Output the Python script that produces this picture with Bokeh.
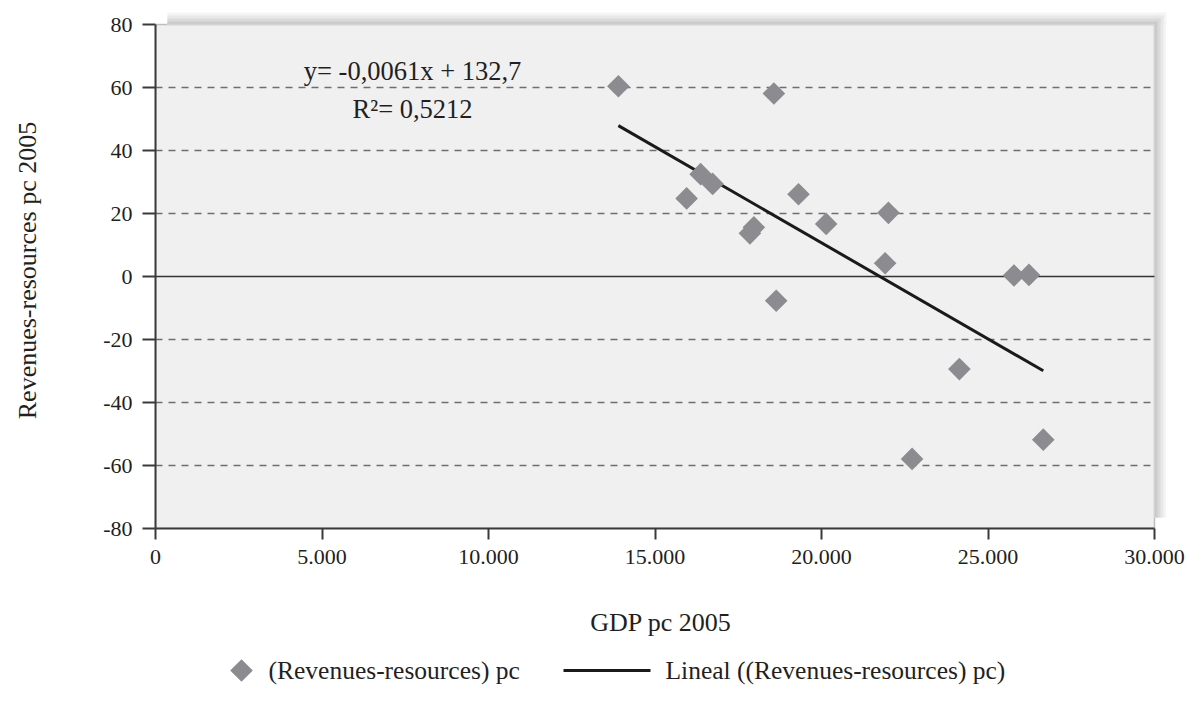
from bokeh.plotting import figure
from bokeh.layouts import column
from bokeh.models import FixedTicker, Label, BoxAnnotation, ColumnDataSource, Range1d
from bokeh.core.properties import value
from bokeh.embed import file_html
from bokeh.resources import INLINE
import math

# ---- data ----
gdp_pc = [13900, 18570, 16370, 16730, 15950, 19310, 17970, 17850, 20140,
          18640, 22010, 21910, 25780, 26230, 24140, 26660, 22720]
rev_res_pc = [60.4, 58.1, 32.5, 29.4, 24.8, 26.1, 15.6, 13.7, 16.7,
              -7.7, 20.2, 4.2, 0.3, 0.5, -29.4, -51.8, -57.9]
trend_slope = -0.0061
trend_intercept = 132.7
equation_text = "y= -0,0061x + 132,7"
r2_text = "R\u00b2= 0,5212"

x_ticks = [0, 5000, 10000, 15000, 20000, 25000, 30000]
x_tick_labels = ["0", "5.000", "10.000", "15.000", "20.000", "25.000", "30.000"]
y_ticks = [-80, -60, -40, -20, 0, 20, 40, 60, 80]
y_tick_labels = ["-80", "-60", "-40", "-20", "0", "20", "40", "60", "80"]
grid_ticks = [-60, -40, -20, 20, 40, 60]

series_name = "(Revenues-resources) pc"
trend_name = "Lineal ((Revenues-resources) pc)"
x_title = "GDP pc 2005"
y_title = "Revenues-resources pc 2005"

FONT = "Liberation Serif"
TXT = "#231f20"
DARK = "#3a3a3a"
POINT = "#8c8c90"

X0, X1 = x_ticks[0], x_ticks[-1]
Y0, Y1 = y_ticks[0], y_ticks[-1]
FW, FH = 999, 504          # plot-area size in px
EXT = 12                   # shadow band in px (top and right)
LEFT, RIGHT = 155, 19      # borders in px
xpp = (X1 - X0) / FW
ypp = (Y1 - Y0) / FH
x_end = X1 + EXT * xpp
y_end = Y1 + EXT * ypp
TOTAL_W = LEFT + FW + EXT + RIGHT

p = figure(width=TOTAL_W, height=653, output_backend="svg", toolbar_location=None,
           x_range=Range1d(X0, x_end), y_range=Range1d(Y0, y_end),
           frame_width=FW + EXT, frame_height=FH + EXT,
           min_border_left=LEFT, min_border_top=12, min_border_right=RIGHT, min_border_bottom=125)
p.background_fill_color = "white"
p.border_fill_color = "white"
p.outline_line_color = None

# plot area (gray) with dark border
p.add_layout(BoxAnnotation(left=X0, right=X1, bottom=Y0, top=Y1, fill_color="#f0f0f0",
                           fill_alpha=1, line_color=DARK, line_width=1.5, level="underlay"))
# soft drop shadow on top and right
shadow_cols = ["#f4f4f4", "#e8e8e8", "#dadada", "#cbcbcb"]
for i, c in enumerate(shadow_cols):
    d = EXT - 3 * i
    p.add_layout(BoxAnnotation(left=X0 + EXT * xpp, right=X1 + d * xpp, bottom=Y1, top=Y1 + d * ypp,
                               fill_color=c, fill_alpha=1, line_color=None, level="underlay"))
    p.add_layout(BoxAnnotation(left=X1, right=X1 + d * xpp, bottom=Y0 + 11 * ypp, top=Y1 + d * ypp,
                               fill_color=c, fill_alpha=1, line_color=None, level="underlay"))

# axes
p.xaxis.ticker = FixedTicker(ticks=x_ticks)
p.xaxis.major_label_overrides = {t: l for t, l in zip(x_ticks, x_tick_labels)}
p.yaxis.ticker = FixedTicker(ticks=y_ticks)
p.yaxis.major_label_overrides = {t: l for t, l in zip(y_ticks, y_tick_labels)}
p.xaxis.bounds = (X0, X1)
p.yaxis.bounds = (Y0, Y1)
for ax in (p.xaxis[0], p.yaxis[0]):
    ax.axis_line_color = DARK
    ax.axis_line_width = 2
    ax.major_tick_line_color = DARK
    ax.major_tick_line_width = 2
    ax.major_tick_in = 0
    ax.minor_tick_line_color = None
    ax.major_label_text_font = FONT
    ax.major_label_text_font_size = "22px"
    ax.major_label_text_color = TXT
    ax.axis_label_text_font = FONT
    ax.axis_label_text_font_size = "26px"
    ax.axis_label_text_font_style = "normal"
    ax.axis_label_text_color = TXT
p.xaxis.major_tick_out = 11
p.yaxis.major_tick_out = 13
p.xaxis.major_label_standoff = 10
p.yaxis.major_label_standoff = 10
p.xaxis.axis_label = x_title
p.yaxis.axis_label = y_title
p.xaxis.axis_label_standoff = 41
p.yaxis.axis_label_standoff = 58

# grid lines (dashed) and zero line, limited to plot area
p.xgrid.visible = False
p.ygrid.visible = False
n = len(grid_ticks)
p.segment(x0=[X0] * n, x1=[X1] * n, y0=grid_ticks, y1=grid_ticks,
          line_color="#6e6e6e", line_width=1.3, line_dash="7 6")
p.segment(x0=[X0], x1=[X1], y0=[0], y1=[0], line_color="#333333", line_width=1.6)

# trend line
tx = [min(gdp_pc), max(gdp_pc)]
ty = [trend_intercept + trend_slope * v for v in tx]
p.line(tx, ty, line_color="#1a1a1a", line_width=3)

# points
src = ColumnDataSource(dict(x=gdp_pc, y=rev_res_pc))
p.scatter("x", "y", source=src, marker="square", size=16, angle=math.pi / 4,
          fill_color=POINT, line_color=None)

# equation labels
eq_x = 7720
p.add_layout(Label(x=eq_x, y=65.3, text=equation_text, text_align="center", text_baseline="middle",
                   text_font=FONT, text_font_size="26.5px", text_color=TXT))
p.add_layout(Label(x=eq_x, y=53.2, text=r2_text, text_align="center", text_baseline="middle",
                   text_font=FONT, text_font_size="26.5px", text_color=TXT))

# ---- legend strip (separate figure; x in canvas pixels, frame aligned with main plot) ----
LH = 45
lg = figure(width=TOTAL_W, height=LH, output_backend="svg", toolbar_location=None,
            x_range=Range1d(LEFT, LEFT + FW + EXT), y_range=Range1d(LH, 0),
            x_axis_location=None, y_axis_location=None,
            frame_width=FW + EXT, frame_height=LH,
            min_border_left=LEFT, min_border_right=RIGHT, min_border_top=0, min_border_bottom=0)
lg.outline_line_color = None
lg.background_fill_color = "white"
lg.border_fill_color = "white"
lg.xgrid.visible = False
lg.ygrid.visible = False
leg_y = 17
lg.scatter(x=[241], y=[leg_y], marker="square", size=16, angle=math.pi / 4,
           fill_color=POINT, line_color=None)
lg.line(x=[563, 650], y=[leg_y, leg_y], line_color="#1a1a1a", line_width=3)
lg.text(x=[268, 665], y=[leg_y, leg_y], text=[series_name, trend_name],
        text_font=value(FONT), text_font_size="25.5px", text_color=TXT,
        text_baseline="middle", text_align="left")

layout = column(p, lg, spacing=0)
open("out.html", "w").write(file_html(layout, INLINE))
